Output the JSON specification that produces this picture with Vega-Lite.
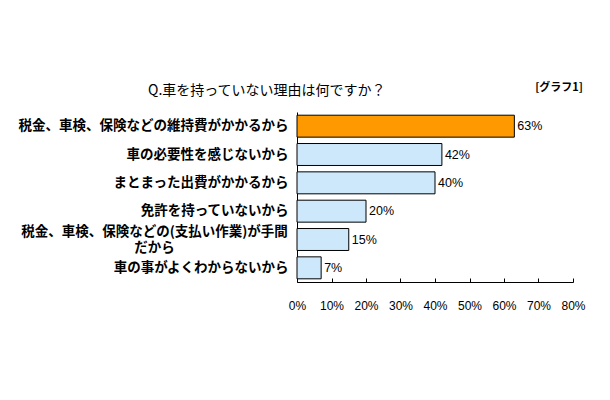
{
  "$schema": "https://vega.github.io/schema/vega-lite/v6.json",
  "width": 276,
  "height": 170,
  "autosize": {"type": "none"},
  "padding": {"left": 297, "top": 112, "right": 37, "bottom": 118},
  "background": "white",
  "config": {"view": {"stroke": null}, "font": "Noto Sans CJK JP"},
  "title": {
    "text": "Q.車を持っていない理由は何ですか？",
    "anchor": "start",
    "frame": "group",
    "dx": -149,
    "offset": -16,
    "fontSize": 14,
    "fontWeight": "normal",
    "font": "Noto Sans CJK JP",
    "color": "black"
  },
  "data": {
    "values": [
      {"reason": "税金、車検、保険などの維持費がかかるから", "pct": 0.63, "top": "yes"},
      {"reason": "車の必要性を感じないから", "pct": 0.42, "top": "no"},
      {"reason": "まとまった出費がかかるから", "pct": 0.40, "top": "no"},
      {"reason": "免許を持っていないから", "pct": 0.20, "top": "no"},
      {"reason": "税金、車検、保険などの(支払い作業)が手間だから", "pct": 0.15, "top": "no"},
      {"reason": "車の事がよくわからないから", "pct": 0.07, "top": "no"}
    ]
  },
  "encoding": {
    "y": {
      "field": "reason",
      "type": "nominal",
      "sort": null,
      "title": null,
      "scale": {"paddingInner": 0.225, "paddingOuter": 0.1125},
      "axis": {
        "domainColor": "black",
        "domainWidth": 1,
        "ticks": false,
        "labelPadding": {"condition": {"test": "datum.value == '税金、車検、保険などの(支払い作業)が手間だから'", "value": 143}, "value": 9},
        "labelAlign": {"condition": {"test": "datum.value == '税金、車検、保険などの(支払い作業)が手間だから'", "value": "center"}, "value": "right"},
        "labelOffset": {"condition": {"test": "datum.value == '税金、車検、保険などの(支払い作業)が手間だから'", "value": -8}, "value": 0},
        "labelFontSize": 13.5,
        "labelFontWeight": "bold",
        "labelColor": "black",
        "labelLimit": 300,
        "labelLineHeight": 16,
        "labelFont": "Noto Sans CJK JP",
        "labelExpr": "datum.value == '税金、車検、保険などの(支払い作業)が手間だから' ? ['税金、車検、保険などの(支払い作業)が手間','だから'] : datum.value"
      }
    },
    "x": {
      "field": "pct",
      "type": "quantitative",
      "title": null,
      "scale": {"domain": [0, 0.8], "nice": false},
      "axis": {
        "values": [0, 0.1, 0.2, 0.3, 0.4, 0.5, 0.6, 0.7, 0.8],
        "format": ".0%",
        "grid": false,
        "domainColor": "black",
        "tickColor": "black",
        "tickSize": -4,
        "labelPadding": 22,
        "labelFontSize": 12,
        "labelColor": "black",
        "labelFont": "Liberation Sans",
        "labelFlush": false,
        "labelOverlap": false
      }
    }
  },
  "layer": [
    {
      "mark": {"type": "bar", "stroke": "black", "strokeWidth": 1},
      "encoding": {
        "fill": {
          "field": "top",
          "type": "nominal",
          "scale": {"domain": ["yes", "no"], "range": ["#FF9900", "#CCE8FA"]},
          "legend": null
        }
      }
    },
    {
      "mark": {"type": "text", "align": "left", "dx": 3, "fontSize": 12.5, "font": "Liberation Sans", "color": "black"},
      "encoding": {
        "text": {"field": "pct", "type": "quantitative", "format": ".0%"}
      }
    },
    {
      "mark": {"type": "text", "align": "right", "dx": 10, "dy": -38, "fontSize": 11, "fontWeight": "bold", "font": "Noto Sans CJK JP", "color": "black"},
      "transform": [{"filter": "datum.top == 'yes'"}],
      "encoding": {
        "x": {"datum": 0.8, "type": "quantitative"},
        "text": {"value": "[グラフ1]"}
      }
    }
  ]
}
